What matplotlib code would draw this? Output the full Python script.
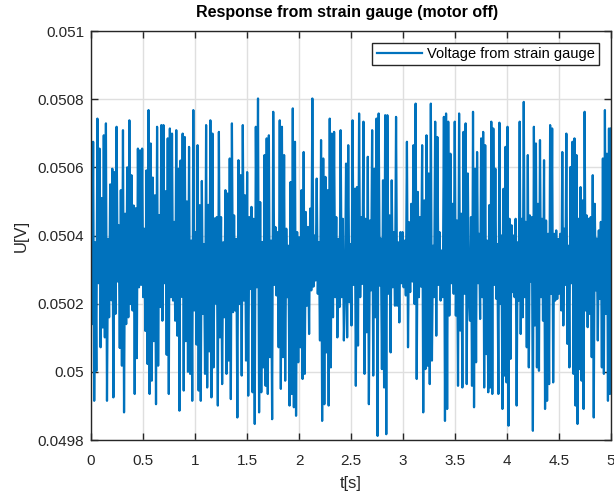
import numpy as np
import matplotlib
matplotlib.use("Agg")
import matplotlib.pyplot as plt

# per-sample deviation from 0.0503 V in microvolts, read segment by segment
seg1 = [95, -160, 375, -385, 80, -297, 443, -40, 355, -228, 210, -170, 394, -199, 429, -385, 90, -140,
        250, -90, 296, -375, 286, -130, 419, -35, 130, -230, 233, -282, 409, -419, 164, -160, 300, -140,
        438, -101, 277, -120, 188, -365, 180, -260, 355, -52, 350, -45, 355, -81, 120, -180, 291, -277,
        468, -365, 370, -326, 270, -210, 218, -395, 419, -282, 160, -110, 424, -150, 424, -40, 230, -250,
        385, -365, 414, -81, 399, -91, 140, -150, 409, -194, 296, -414, 320, -80, 399, -355, 389, -210,
        200, -300, 360, -306, 85, -385, 468, -120, 110, -220, 365, -355, 189, -385, 260, -130, 75, -306,
        424, -346, 190, -240, 438, -375, 399, -287, 150, -100, 154, -399, 404]
seg2 = [-199, 154, -336, 80, -140, 233, -306, 223, -267, 326, -380, 429, -125, 159, -120, 90, -434, 321,
        -101, 277, -311, 424, -91, 218, -267, 286, -370, 154, -57, 184, -360, 149, -453, 419, -52, 502,
        -419, 198, -360, 81, -287, 336, -341, 385, -365, 394, -257, 85, -439, 463, -45, 125, -76, 110,
        -228, 438, -350, 419, -257, 336, -326, 120, -81, 70, -399, 257, -365, 473, -404, 375, -429, 110,
        -272, 95, -228, 233, -321, 345, -306, 169, -106, 125, -189, 179, -61, 502, -50, 100, -32, 267,
        -71, 80, -208, 380, -444, 326, -395, 272, -243, 233, -399, 443, -287, 399, -140, 404, -81, 154,
        -199, 90, -110, 409, -81, 149, -208]
seg3 = [-57, 311, -199, 365, -96, 75, -164, 438, -45, 237, -341, 242, -223, 458, -81, 154, -42, 434,
        -306, 149, -184, 331, -395, 144, -61, 409, -311, 296, -140, 443, -488, 458, -47, 91, -292, 262,
        -346, 453, -483, 453, -71, 159, -243, 262, -52, 110, -106, 448, -106, 80, -155, 110, -40, 110,
        -52, 85, -76, 375, -228, 139, -66, 193, -35, 365, -101, 487, -321, 228, -81, 154, -50, 365,
        -419, 203, -292, 394, -282, 282, -336, 487, -267, 70, -81, 434, -194, 389, -45, 110, -91, 56,
        -81, 448, -444, 458, -409, 434, -135, 340, -40, 193, -71, 434, -135, 144, -341, 458, -179, 164,
        -346, 404, -71, 429, -336, 282, -81]
seg4 = [-150, 154, -341, 463, -404, 296, -272, 345, -40, 105, -145, 385, -81, 404, -346, 365, -248, 85,
        -360, 189, -346, 434, -365, 414, -45, 296, -86, 75, -365, 431, -101, 100, -409, 237, -311, 360,
        -331, 419, -458, 149, -262, 130, -66, 100, -81, 149, -399, 80, -91, 434, -189, 149, -140, 492,
        -81, 140, -228, 336, -287, 159, -35, 154, -473, 419, -164, 370, -287, 193, -297, 380, -81, 149,
        -150, 321, -409, 144, -385, 105, -336, 424, -71, 414, -331, 105, -91, 115, -86, 90, -71, 105,
        -120, 345, -164, 120, -45, 399, -218, 70, -287, 301, -40, 375, -306, 385, -399, 336, -453, 149,
        -292, 242, -326, 203, -409, 463, -120, 159, -169, 149, -130, 154, -257, 277, -434, 193, -61, 91,
        -208, 115, -86, 140, -287, 326, -306, 468, -130, 340, -385, 414, -365, 414]
segments = [seg1, seg2, seg3, seg4]
segment_bounds_s = [0.0, 1.24, 2.442, 3.644, 5.0]   # time at the boundaries of the read segments

base_voltage = 0.0503
x_ticks = [0, 0.5, 1, 1.5, 2, 2.5, 3, 3.5, 4, 4.5, 5]
x_tick_labels = ["0", "0.5", "1", "1.5", "2", "2.5", "3", "3.5", "4", "4.5", "5"]
y_ticks = [0.0498, 0.05, 0.0502, 0.0504, 0.0506, 0.0508, 0.051]
y_tick_labels = ["0.0498", "0.05", "0.0502", "0.0504", "0.0506", "0.0508", "0.051"]

t_parts = []
for i, seg in enumerate(segments):
    last = (i == len(segments) - 1)
    t_parts.append(np.linspace(segment_bounds_s[i], segment_bounds_s[i + 1], len(seg), endpoint=last))
t = np.concatenate(t_parts)
u = base_voltage + np.concatenate([np.array(s, float) for s in segments]) * 1e-6

plt.rcParams['font.family'] = ['Liberation Sans', 'DejaVu Sans']
fig = plt.figure(figsize=(6.14, 4.93), dpi=100)
ax = fig.add_axes([91/614, 1-440/493, 520/614, 409/493])

ax.plot(t, u, color='#0072BD', lw=1.6, label='Voltage from strain gauge')
ax.set_xlim(0, 5)
ax.set_ylim(0.0498, 0.051)
ax.set_xticks(x_ticks)
ax.set_xticklabels(x_tick_labels)
ax.set_yticks(y_ticks)
ax.set_yticklabels(y_tick_labels)
ax.grid(True, color='#dfdfdf', lw=1.0)
ax.set_axisbelow(True)
ax.tick_params(direction='in', top=True, right=True, length=5, width=1.0,
               colors='#262626', labelsize=11)
ax.tick_params(axis='x', pad=10)
ax.tick_params(axis='y', pad=5)
for s in ax.spines.values():
    s.set_color('#262626')
    s.set_linewidth(1.0)
ax.set_xlabel('t[s]', fontsize=12, color='#262626', labelpad=6)
ax.set_ylabel('U[V]', fontsize=12, color='#262626', labelpad=6)
ax.set_title('Response from strain gauge (motor off)', fontsize=11.5, fontweight='bold', pad=10, x=0.492)
leg = ax.legend(loc='upper right', fontsize=10.5, frameon=True, fancybox=False,
                edgecolor='#262626', handlelength=3.1, borderaxespad=0.8,
                borderpad=0.3, handletextpad=0.35)
leg.get_frame().set_linewidth(1.0)
leg.get_frame().set_alpha(1)
fig.savefig('out.png', dpi=100)
